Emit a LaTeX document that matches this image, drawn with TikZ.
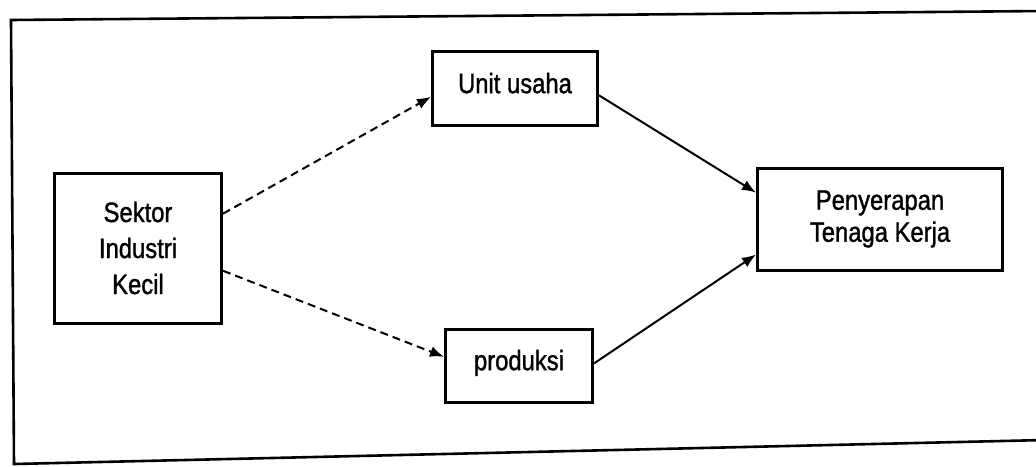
\documentclass[tikz,border=0pt]{standalone}
\usepackage{fontspec}
\setmainfont{Liberation Sans}[FakeStretch=0.85,FakeBold=1.2]
\usetikzlibrary{arrows.meta}
\begin{document}
\begin{tikzpicture}[
   x=0.5pt,y=-0.5pt,
   font=\fontsize{14}{18}\selectfont,
   box/.style={draw,line width=1.5pt,align=center,inner sep=0pt},
   to/.style={-{Latex[length=7pt,width=5.5pt]},line width=1pt},
   dashto/.style={to,dash pattern=on 4pt off 2.5pt},
   every node/.style={auto}]
\useasboundingbox (0,0) rectangle (1036,466);
% outer frame
\draw[line width=1.3pt] (1045,11) -- (11,20) -- (14,464) -- (1045,440);
\node[box,minimum width=83.5pt,minimum height=75pt] (S) at (138,248) {Sektor\\Industri\\Kecil};
\node[box,minimum width=82.5pt,minimum height=37pt,text depth=5pt] (U) at (515,88) {Unit usaha};
\node[box,minimum width=73.5pt,minimum height=36.5pt,text depth=6pt] (P) at (519,366) {produksi};
\node[box,minimum width=122.5pt,minimum height=51pt,font=\fontsize{14}{16}\selectfont] (K) at (880,219) {Penyerapan\\Tenaga Kerja};
\draw[dashto] (S.22) -- (U.186);
\draw[dashto] (S.345) -- (P.173);
\draw[to] (U.355) -- (K.168);
\draw[to] (P.2) -- (K.196);
\end{tikzpicture}
\end{document}
